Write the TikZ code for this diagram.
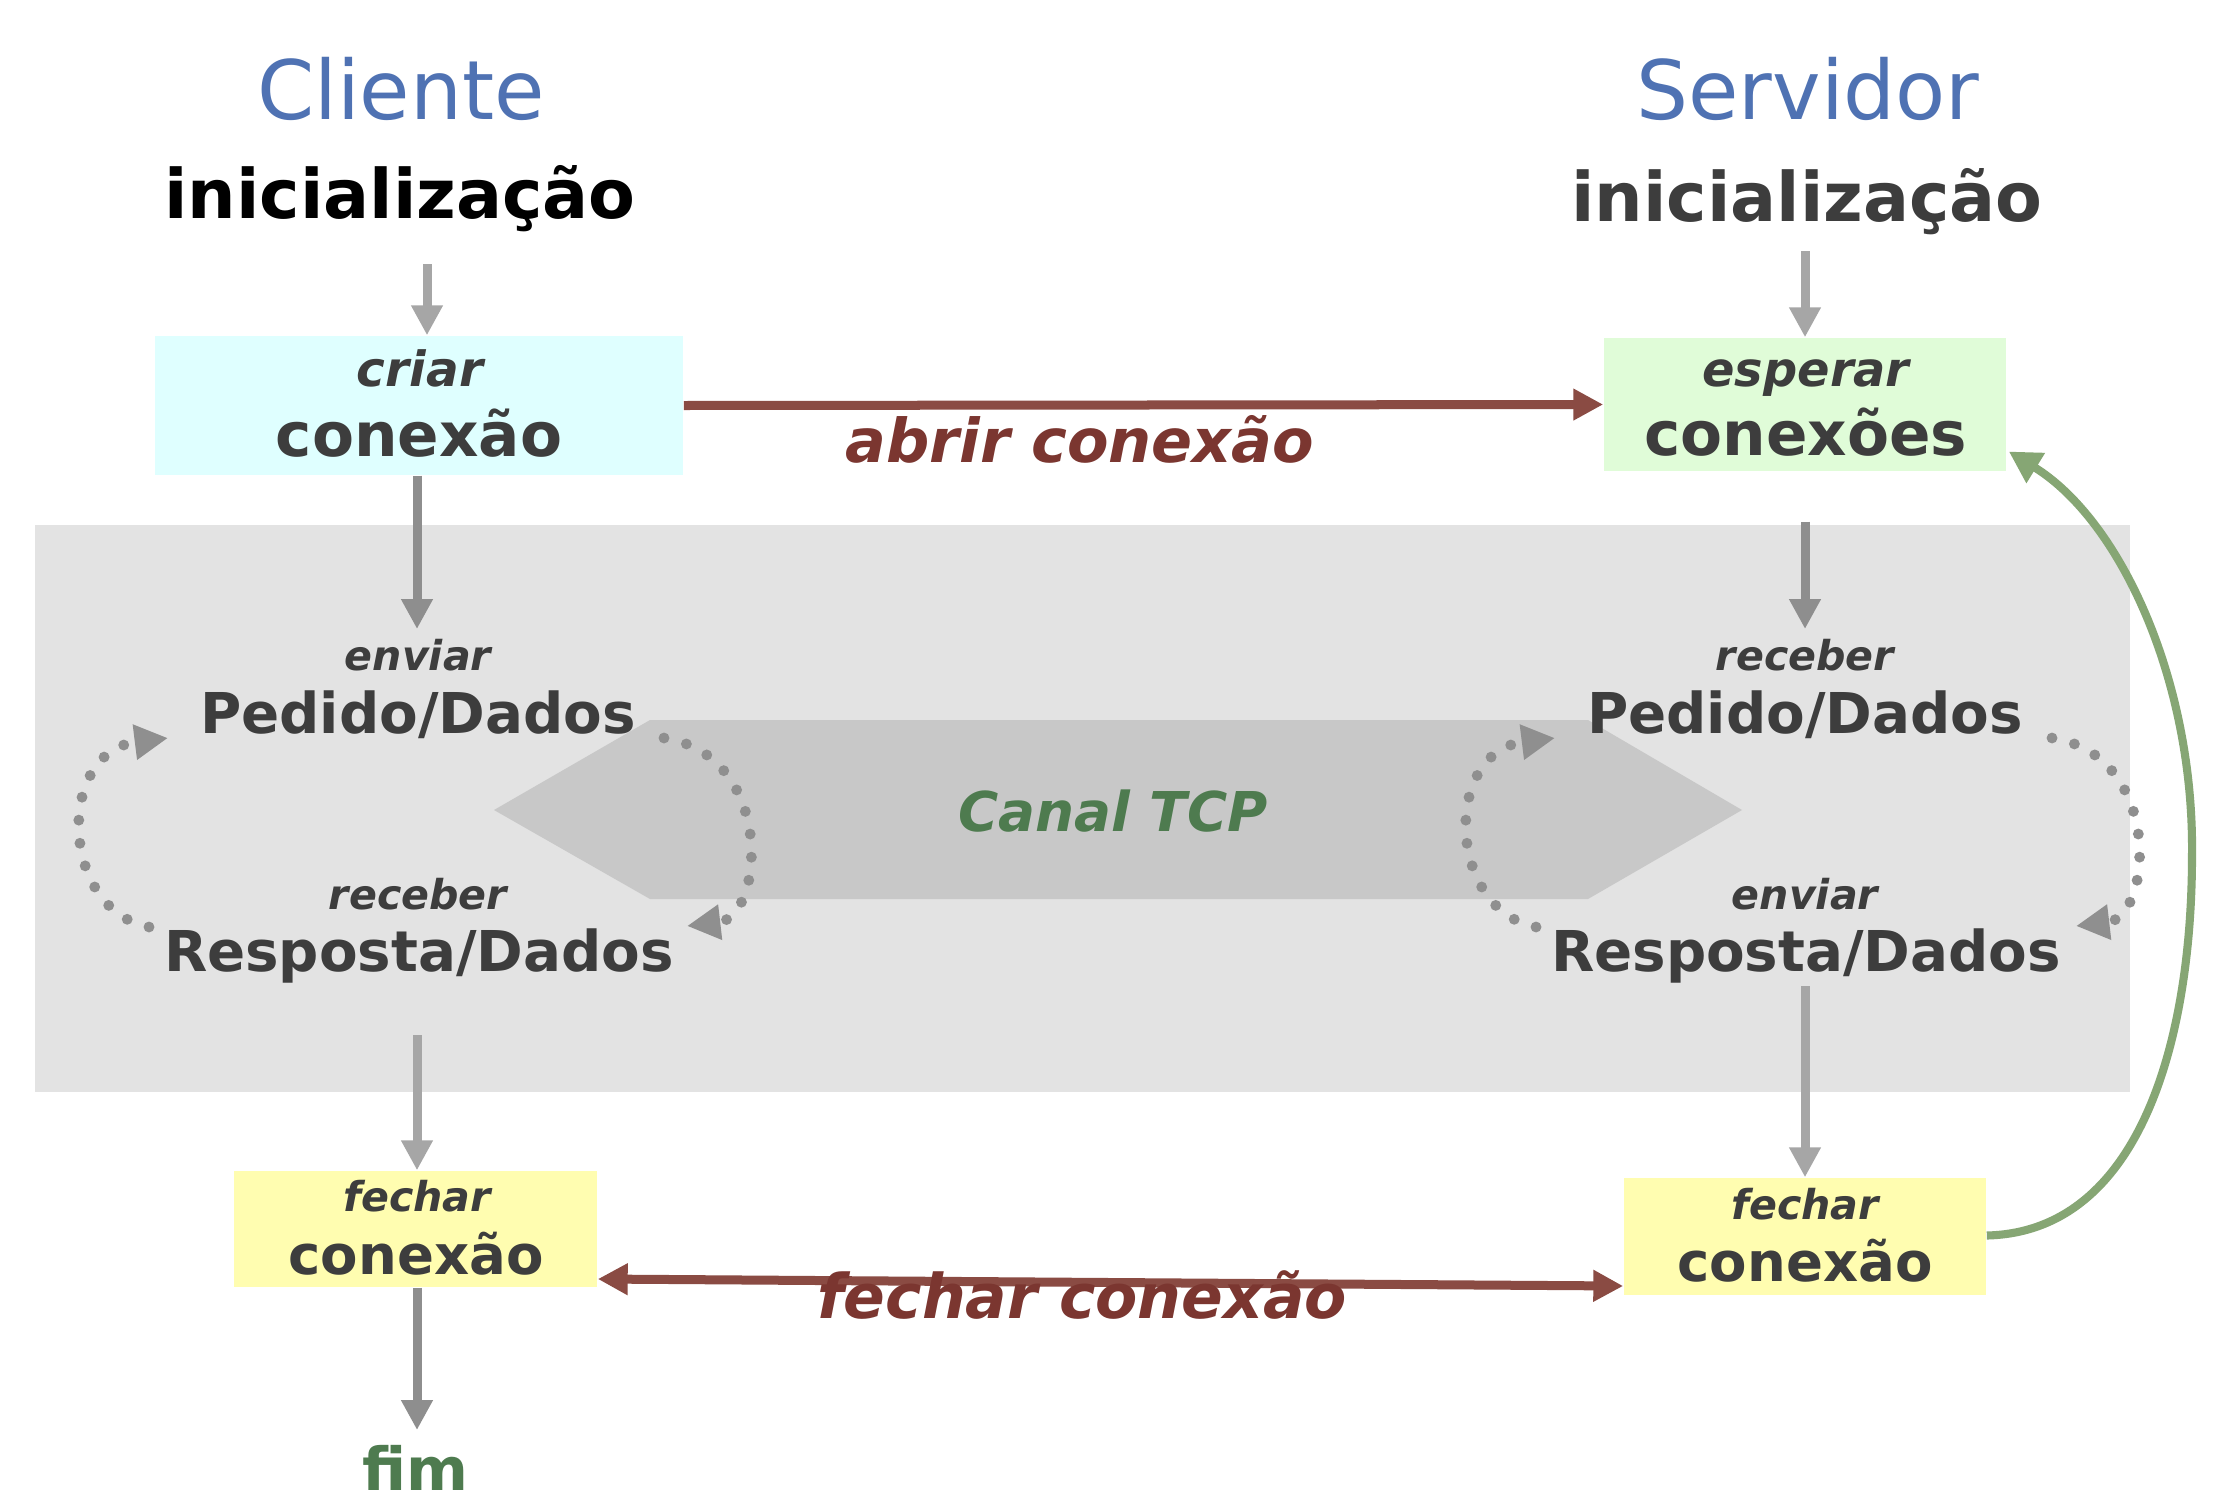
\documentclass[tikz,border=0pt]{standalone}
\usepackage{fontspec}
\setmainfont{DejaVu Sans}
\usetikzlibrary{arrows.meta,calc}
\definecolor{titleblue}{HTML}{4F72B3}
\definecolor{txtgray}{HTML}{3D3D3D}
\definecolor{cyanbox}{HTML}{DFFFFF}
\definecolor{greenbox}{HTML}{E0FCD8}
\definecolor{yellowbox}{HTML}{FFFDB0}
\definecolor{bggray}{HTML}{E3E3E3}
\definecolor{hexgray}{HTML}{C8C8C8}
\definecolor{arrowlight}{HTML}{A6A6A6}
\definecolor{arrowdark}{HTML}{8E8E8E}
\definecolor{dotgray}{HTML}{8F8F8F}
\definecolor{brownline}{HTML}{8A4B43}
\definecolor{browntext}{HTML}{7B3630}
\definecolor{greenline}{HTML}{86A674}
\definecolor{greentext}{HTML}{4E7B4F}
\newcommand\myfs[1]{\fontsize{#1}{#1}\selectfont}
\begin{document}
\begin{tikzpicture}[x=0.01cm,y=-0.01cm,
  lbl/.style={anchor=base,inner sep=0pt,text=txtgray},
  ttl/.style={anchor=base,inner sep=0pt,text=titleblue,font=\myfs{23.3pt}},
  big/.style={lbl,font=\bfseries\myfs{19.4pt}},
  sub/.style={lbl,font=\bfseries\itshape\myfs{11.7pt}},
  main/.style={lbl,font=\bfseries\myfs{16pt}},
  boxnode/.style={draw=none,inner sep=0pt},
  garrow/.style={line width=2.56pt,-{Triangle[length=8.5pt,width=8.5pt]}},
  barrow/.style={line width=2.56pt,draw=brownline,{Triangle[length=8.5pt,width=8.5pt]}-{Triangle[length=8.5pt,width=8.5pt]}},
  dotloop/.style={draw=dotgray,line width=3.1pt,line cap=round,dash pattern=on 0pt off 6.6pt,-{Triangle[length=9.5pt,width=9.5pt]}}
]
\useasboundingbox (0,0) rectangle (2215,1506);
\fill[white] (0,0) rectangle (2215,1506);
% background panel and channel
\fill[bggray] (35,525) rectangle (2130,1092);
\fill[hexgray] (494,810) -- (650,720) -- (1588,720) -- (1742,810) -- (1588,899) -- (650,899) -- cycle;

% boxes
\node[boxnode,fill=cyanbox,minimum width=5.28cm,minimum height=1.39cm] (criar) at (419,405.5) {};
\node[boxnode,fill=greenbox,minimum width=4.02cm,minimum height=1.33cm] (esperar) at (1805,404.5) {};
\node[boxnode,fill=yellowbox,minimum width=3.63cm,minimum height=1.16cm] (fecharC) at (415.5,1229) {};
\node[boxnode,fill=yellowbox,minimum width=3.62cm,minimum height=1.17cm] (fecharS) at (1805,1236.5) {};

% titles
\node[ttl] (cli) at (401,119) {Cliente};
\node[ttl] (srv) at (1808,120) {Servidor};
\node[big,text=black] (initC) at (400,218) {inicialização};
\node[big] (initS) at (1807,221) {inicialização};

% box texts
\node[lbl,font=\bfseries\itshape\myfs{13.8pt}] (criarT) at (420,386) {criar};
\node[lbl,font=\bfseries\myfs{17.4pt}] (criarC) at (419,456) {conexão};
\node[lbl,font=\bfseries\itshape\myfs{13.6pt}] (esperarT) at (1806,386) {esperar};
\node[lbl,font=\bfseries\myfs{17.4pt}] (esperarC) at (1806,455) {conexões};
\node[sub] (fecharCT) at (417,1211) {fechar};
\node[lbl,font=\bfseries\myfs{15.5pt}] (fecharCC) at (416,1274) {conexão};
\node[sub] (fecharST) at (1805,1219) {fechar};
\node[lbl,font=\bfseries\myfs{15.5pt}] (fecharSC) at (1805,1281) {conexão};
\node[lbl,text=greentext,font=\bfseries\myfs{16.9pt}] (fim) at (415,1490) {fim};

% loop texts
\node[sub] (enviarC) at (418,670) {enviar};
\node[main] (pedC) at (418,733) {Pedido/Dados};
\node[sub] (recebC) at (418,909) {receber};
\node[main] (respC) at (419,971) {Resposta/Dados};
\node[sub] (recebS) at (1805,670) {receber};
\node[main] (pedS) at (1805,733) {Pedido/Dados};
\node[sub] (enviarS) at (1805,909) {enviar};
\node[main] (respS) at (1806,971) {Resposta/Dados};

% gray arrows
\draw[garrow,arrowlight] ($(criar.north)+(8,-71)$) -- ($(criar.north)+(8,0)$);
\draw[garrow,arrowdark] ($(criar.south)+(-2,0)$) -- ($(enviarC.base)+(-1,-41)$);
\draw[garrow,arrowlight] ($(esperar.north)+(0,-86)$) -- (esperar.north);
\draw[garrow,arrowdark] ($(esperar.south)+(0,50)$) -- ($(recebS.base)+(0,-41)$);
\draw[garrow,arrowlight] ($(respC.base)+(-2,64)$) -- ($(fecharC.north)+(1.5,0)$);
\draw[garrow,arrowdark] ($(fecharC.south)+(1.5,0)$) -- ($(fim.base)+(2,-60)$);
\draw[garrow,arrowlight] ($(respS.base)+(-1,15)$) -- (fecharS.north);

% dotted loops
\coordinate (lcs) at (149,927); \coordinate (lce) at (168,738);
\coordinate (rcs) at (664,738); \coordinate (rce) at (687,926);
\coordinate (lss) at (1536,927); \coordinate (lse) at (1555,738);
\coordinate (rss) at (2052,738); \coordinate (rse) at (2076,926);
\draw[dotloop] (lcs) .. controls (60,910) and (55,752) .. (lce);
\draw[dotloop] (rcs) .. controls (775,755) and (765,917) .. (rce);
\draw[dotloop] (lss) .. controls (1447,910) and (1442,752) .. (lse);
\draw[dotloop] (rss) .. controls (2163,755) and (2153,917) .. (rse);

% brown connection arrows
\draw[line width=2.56pt,draw=brownline,-{Triangle[length=8.5pt,width=8.5pt]}] (criar.east) -- (esperar.west);
\draw[barrow] ($(fecharC.east)+(0,50)$) -- ($(fecharS.west)+(0,49.5)$);

% green return curve
\coordinate (gmid) at (2192,855);
\draw[line width=2.3pt,draw=greenline,-{Triangle[length=9pt,width=9.5pt]}]
  ($(fecharS.east)+(0,-1)$) .. controls (2140,1232) and (2192,1040) .. (gmid)
  .. controls (2194,680) and (2120,520) .. ($(esperar.east)+(2,47)$);

% labels
\node[lbl,text=browntext,font=\bfseries\itshape\myfs{17.2pt}] (abrir) at (1080,462) {abrir conexão};
\node[lbl,text=browntext,font=\bfseries\itshape\myfs{17.5pt}] (fecharL) at (1082,1318) {fechar conexão};
\node[lbl,text=greentext,font=\bfseries\itshape\myfs{15.6pt}] (canal) at (1113,831) {Canal TCP};
\end{tikzpicture}
\end{document}
